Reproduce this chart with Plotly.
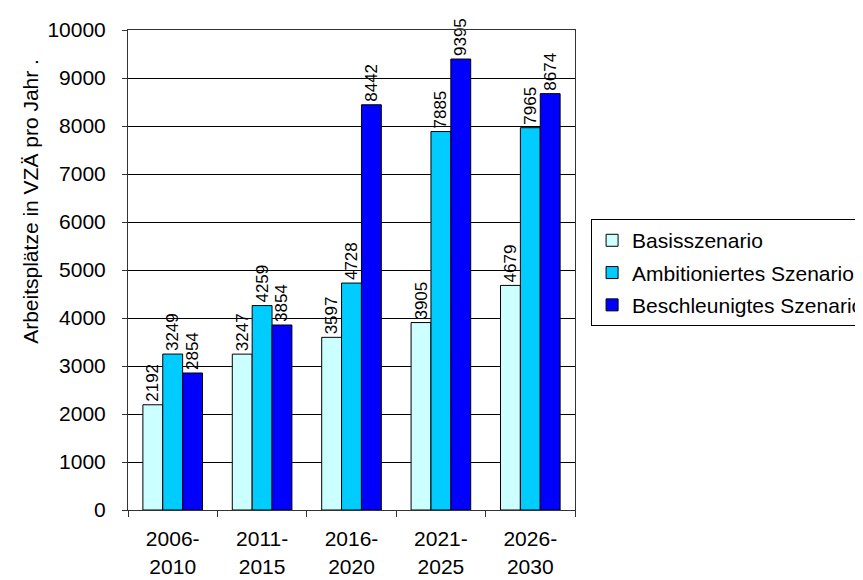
import plotly.graph_objects as go

periods = ["2006-<br>2010", "2011-<br>2015", "2016-<br>2020", "2021-<br>2025", "2026-<br>2030"]
basis = [2192, 3247, 3597, 3905, 4679]
ambitioniert = [3249, 4259, 4728, 7885, 7965]
beschleunigt = [2854, 3854, 8442, 9395, 8674]

series = [
    ("Basisszenario", basis, "#CCFFFF"),
    ("Ambitioniertes Szenario", ambitioniert, "#00CCFF"),
    ("Beschleunigtes Szenario", beschleunigt, "#0000FF"),
]

font = "Liberation Sans, Arial, sans-serif"

fig = go.Figure()
for name, vals, col in series:
    fig.add_trace(go.Bar(
        x=periods, y=vals, name=name, legendgroup=name,
        marker=dict(color=col, line=dict(color="black", width=1)),
        text=vals, textposition="outside", textangle=-90,
        textfont=dict(family=font, size=17, color="black"),
        constraintext="none", cliponaxis=False,
    ))

# page body adds 8px top/left; the legend runs off the right edge like the original
fig.update_layout(
    width=855, height=572,
    margin=dict(l=120, r=288, t=22, b=70, autoexpand=False),
    paper_bgcolor="white", plot_bgcolor="white",
    barmode="group", bargap=0.333, bargroupgap=0,
    font=dict(family=font, size=21, color="black"),
    showlegend=True,
    legend=dict(
        x=1.036, y=0.606, xanchor="left", yanchor="top",
        bordercolor="black", borderwidth=1, bgcolor="white",
        font=dict(size=21), traceorder="grouped", tracegroupgap=2, itemwidth=30,
    ),
)
# y title sits above the plot centre in the original, so use an annotation
fig.add_annotation(
    text="Arbeitsplätze in VZÄ pro Jahr .", textangle=-90,
    xref="paper", yref="paper", x=-0.217, y=0.642,
    xanchor="center", yanchor="middle", showarrow=False,
    font=dict(family=font, size=21, color="black"),
)
fig.update_yaxes(
    range=[0, 10000], dtick=1000, tickformat="d",
    showgrid=True, gridcolor="black", gridwidth=1,
    showline=True, linecolor="#333333", linewidth=1, mirror=True,
    ticks="outside", ticklen=5, tickcolor="#333333",
    ticklabelstandoff=12,
)
fig.update_xaxes(
    showline=True, linecolor="#333333", linewidth=1, mirror=True,
    ticks="outside", ticklen=6, tickcolor="#333333", tickson="boundaries",
    ticklabelstandoff=10,
)

fig.write_html("out.html")
